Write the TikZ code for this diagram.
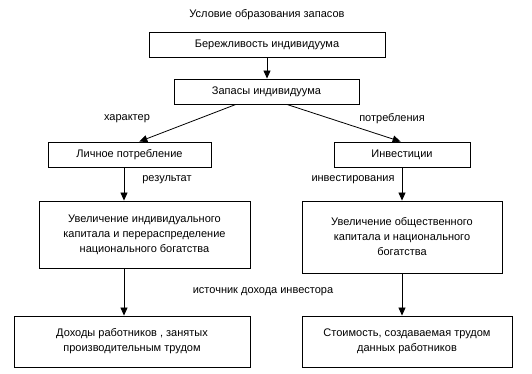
\documentclass[tikz,border=0pt]{standalone}
\usepackage{fontspec}
\setmainfont{Liberation Sans}
\usepackage{tikz}
\usetikzlibrary{arrows.meta, positioning, calc}

\begin{document}
\begin{tikzpicture}[
  x=1pt, y=-1pt,
  box/.style={draw, line width=0.9pt, inner sep=2pt,
              font=\fontsize{11}{15}\selectfont, align=center},
  lab/.style={font=\fontsize{11}{15}\selectfont, inner sep=1pt},
  arr/.style={-{Triangle[width=7pt,length=8pt]}, line width=0.8pt},
]
\useasboundingbox[fill=white] (0,0) rectangle (532,374);

% ---- Title and top chain ---------------------------------------------------
\node[lab] (title) at (267,15) {Условие образования запасов};
\node[box, minimum width=236pt, minimum height=25pt] (berezh) at (267,44.5)
  {Бережливость индивидуума};
\node[box, minimum width=185pt, minimum height=25pt] (zapas) at (266.5,91.5)
  {Запасы индивидуума};
\draw[arr] (berezh.south) -- (berezh.south |- zapas.north);

% ---- Second level ----------------------------------------------------------
\node[box, minimum width=163pt, minimum height=25pt] (lich) at (129.5,154.5)
  {Личное потребление};
\node[box, minimum width=136pt, minimum height=25pt] (invest) at (402,154.5)
  {Инвестиции};
\draw[arr] ($(zapas.south west)!0.335!(zapas.south east)$)
  -- ($(lich.north west)!0.56!(lich.north east)$);
\draw[arr] ($(zapas.south west)!0.61!(zapas.south east)$)
  -- ($(invest.north west)!0.49!(invest.north east)$);
\node[lab] (harakter) at (127,119) {характер};
\node[lab] (potrebl) at (392,119) {потребления};

% ---- Third level -----------------------------------------------------------
\node[box, minimum width=211pt, minimum height=67pt] (uvind) at (144.5,234.5)
  {Увеличение индивидуального\\капитала и перераспределение\\национального богатства};
\node[box, minimum width=200pt, minimum height=72pt] (uvobsh) at (402,237)
  {Увеличение общественного\\капитала и национального\\богатства};
\draw[arr] ([xshift=-5.5pt]lich.south) -- ([xshift=-5.5pt]lich.south |- uvind.north);
\draw[arr] (invest.south) -- (invest.south |- uvobsh.north);
\node[lab] (rezult) at (167,180) {результат};
\node[lab] (investir) at (353,180) {инвестирования};

% ---- Bottom level ----------------------------------------------------------
\node[box, minimum width=236pt, minimum height=51pt] (dohod) at (132,341.5)
  {Доходы работников , занятых\\производительным трудом};
\node[box, minimum width=210pt, minimum height=51pt] (stoim) at (407,341.5)
  {Стоимость, создаваемая трудом\\данных работников};
\draw[arr] ([xshift=-20.5pt]uvind.south) -- ([xshift=-20.5pt]uvind.south |- dohod.north);
\draw[arr] (uvobsh.south) -- (uvobsh.south |- stoim.north);
\node[lab] (istoch) at (263,292) {источник дохода инвестора};

\end{tikzpicture}
\end{document}
